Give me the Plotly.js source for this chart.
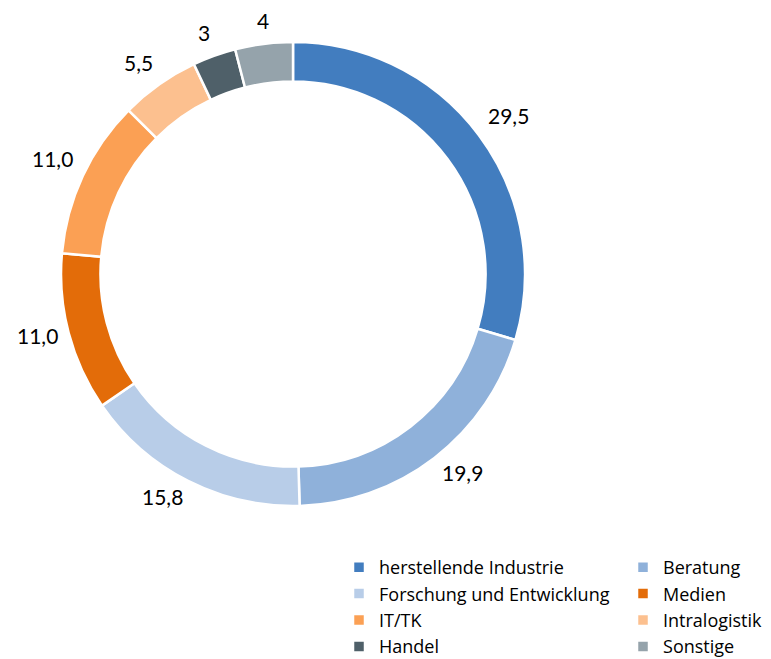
<!DOCTYPE html>
<html><head><meta charset="utf-8">
<script src="https://cdn.plot.ly/plotly-3.0.1.min.js"></script>
<style>body{margin:0;background:#fff}#chart{width:771px;height:659px}</style>
</head><body><div id="chart"></div>
<script>
const categories = ["herstellende Industrie","Beratung","Forschung und Entwicklung","Medien","IT/TK","Intralogistik","Handel","Sonstige"];
const values = [29.5, 19.9, 15.8, 11.0, 11.0, 5.5, 3, 4];
const valueLabels = ["29,5","19,9","15,8","11,0","11,0","5,5","3","4"];
const colors = ["#427DBF","#8FB1DA","#B8CDE8","#E36C09","#FBA054","#FCC08F","#4F6069","#95A3AB"];

const W = 771, H = 659;
const domX = [0.0791, 0.681], domY = [0.2322, 0.9363];
const labelFont = {family: "Lato, sans-serif", size: 21, color: "#000"};

// label placement derived from the pie geometry and the values
const cx = (domX[0] + domX[1]) / 2 * W;
const cy = (1 - (domY[0] + domY[1]) / 2) * H;
const R = Math.min((domX[1] - domX[0]) * W, (domY[1] - domY[0]) * H) / 2;
const gap = 10;
const total = values.reduce((a, b) => a + b, 0);
let cum = 0;
const annotations = values.map((v, i) => {
  const mid = (cum + v / 2) / total * 2 * Math.PI;
  cum += v;
  const s = Math.sin(mid), c = Math.cos(mid);
  const px = cx + s * (R + gap), py = cy - c * (R + gap);
  const ya = c > 0.3 ? "bottom" : (c < -0.3 ? "top" : "middle");
  return {
    x: px / W, y: 1 - py / H, xref: "paper", yref: "paper",
    xanchor: s > 0.3 ? "left" : (s < -0.3 ? "right" : "center"),
    yanchor: ya,
    yshift: ya === "top" ? 7 : 0,
    borderpad: 0,
    text: valueLabels[i], showarrow: false, font: labelFont
  };
});

const data = [{
  type: "pie",
  labels: categories,
  values: values,
  text: valueLabels,
  textinfo: "none",
  hoverinfo: "label+text",
  sort: false,
  direction: "clockwise",
  rotation: 0,
  hole: 0.83,
  marker: {colors: colors, line: {color: "#ffffff", width: 2.5}},
  domain: {x: domX, y: domY}
}];

const layout = {
  width: W, height: H,
  margin: {l: 0, r: 0, t: 0, b: 0, autoexpand: false},
  paper_bgcolor: "#fff",
  showlegend: true,
  annotations: annotations,
  legend: {
    orientation: "h",
    x: 0.4397, xanchor: "left",
    y: 0.1669, yanchor: "top",
    entrywidth: 239, entrywidthmode: "pixels",
    font: {family: "'Open Sans', sans-serif", size: 18, color: "#000"},
    traceorder: "normal",
    itemclick: false, itemdoubleclick: false,
    tracegroupgap: 0
  }
};

Plotly.newPlot("chart", data, layout, {displayModeBar: false, staticPlot: true});
</script></body></html>
